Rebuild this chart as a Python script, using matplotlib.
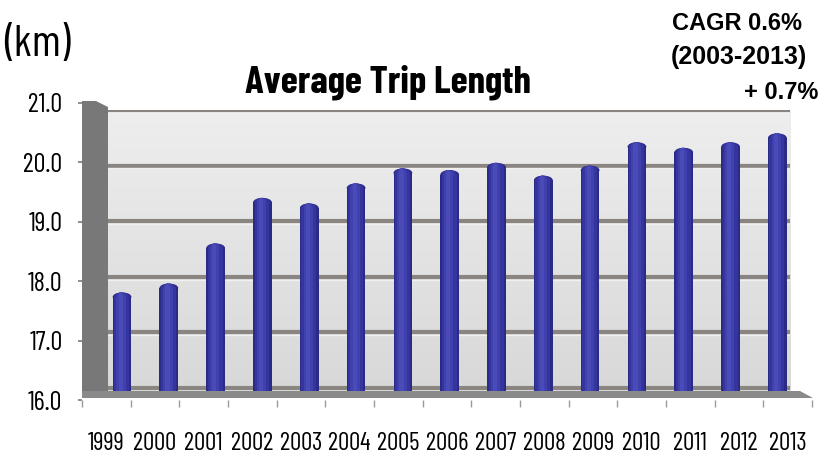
import matplotlib
matplotlib.use("Agg")
import matplotlib.pyplot as plt
import numpy as np
from matplotlib.patches import Ellipse, Polygon

years = ["1999", "2000", "2001", "2002", "2003", "2004", "2005", "2006",
         "2007", "2008", "2009", "2010", "2011", "2012", "2013"]
trip_km = [17.72, 17.88, 18.6, 19.42, 19.32, 19.68, 19.95, 19.92,
           20.05, 19.82, 20.0, 20.42, 20.32, 20.42, 20.58]
yticks = [16.0, 17.0, 18.0, 19.0, 20.0, 21.0]
ytick_labels = ["16.0", "17.0", "18.0", "19.0", "20.0", "21.0"]

W, H = 821, 457
fig = plt.figure(figsize=(W / 100, H / 100), dpi=100)
fig.patch.set_facecolor("white")

COND = ["Barlow Condensed", "DejaVu Sans"]
ARIAL = ["Liberation Sans", "DejaVu Sans"]

def fx(px):
    return px / W

def fy(py):
    return 1 - py / H

# front plane axes (ticks/labels)
front_l, front_r, front_t, front_b = 82, 812, 103, 400
axf = fig.add_axes([fx(front_l), fy(front_b), fx(front_r - front_l), (front_b - front_t) / H])
axf.set_xlim(-0.5, len(years) - 0.5)
axf.set_ylim(16, 21)
axf.patch.set_alpha(0)
for s in axf.spines.values():
    s.set_visible(False)
axf.set_yticks(yticks)
axf.set_yticklabels(ytick_labels, family=COND, fontsize=19)
axf.set_xticks(np.arange(len(years) + 1) - 0.5)
axf.set_xticklabels([])
axf.set_xticks(np.arange(len(years)), minor=True)
axf.set_xticklabels(years, minor=True, family=COND, fontsize=18)
axf.tick_params(axis="y", length=3, width=1.2, color="#7b7b7b", pad=11)
axf.tick_params(axis="x", which="major", length=5, width=1, color="#9a9a9a", direction="out")
axf.tick_params(axis="x", which="minor", length=0, pad=23)

# side wall and floor
wall_l, wall_r, wall_t, wall_b = 108, 790, 110, 392
side = Polygon([(fx(82), fy(101)), (fx(96), fy(101)), (fx(wall_l), fy(107)),
                (fx(wall_l), fy(wall_b)), (fx(82), fy(wall_b))], closed=True,
               transform=fig.transFigure, facecolor="#787878", edgecolor="none", zorder=0.5)
fig.patches.append(side)
floor = Polygon([(fx(82), fy(wall_b - 1)), (fx(800), fy(wall_b - 1)), (fx(813), fy(398)),
                 (fx(82), fy(398))], closed=True,
                transform=fig.transFigure, facecolor="#8a8a8a", edgecolor="none", zorder=0.5)
fig.patches.append(floor)

# back wall axes with bars
axb = fig.add_axes([fx(wall_l), fy(wall_b), fx(wall_r - wall_l), (wall_b - wall_t) / H])
axb.set_xlim(-0.3, 14.27)
axb.set_ylim(15.93, 21)
axb.set_axis_off()
grad = np.linspace(1, 0, 256).reshape(-1, 1)
axb.imshow(grad, extent=[-0.3, 14.27, 15.93, 21], aspect="auto",
           cmap=matplotlib.colors.LinearSegmentedColormap.from_list("w", ["#d8d8d8", "#eeeeee"]), zorder=0)
for v in yticks:
    axb.axhline(v, color="#8b8581", lw=3.0, zorder=1)
    axb.axhline(v - 0.05, color="#f2f0ee", lw=1.0, zorder=1)

x = np.arange(len(years))
base = axb.get_ylim()[0]
layers = [(0.40, "#2b2b85", 0.0), (0.32, "#3535a0", -0.01), (0.20, "#4040ae", -0.02), (0.09, "#4b4bb8", -0.03)]
cap_h = 0.16
for w, c, off in layers:
    tops = [v - cap_h / 2 for v in trip_km]
    axb.bar(x + off, [t - base for t in tops], bottom=base, width=w, color=c, zorder=3)
    for xi, t in zip(x, tops):
        axb.add_patch(Ellipse((xi + off, t), w, cap_h, facecolor=c, edgecolor="none", zorder=3))

# texts
fig.text(fx(388), fy(93), "Average Trip Length", ha="center", va="baseline",
         family=COND, fontweight="bold", fontsize=28)
fig.text(fx(4), fy(56), "(km)", ha="left", va="baseline", family=COND, fontsize=32)
fig.text(fx(737), fy(30), "CAGR 0.6%", ha="center", va="baseline",
         family=ARIAL, fontweight="bold", fontsize=17)
fig.text(fx(739), fy(64), "(2003-2013)", ha="center", va="baseline",
         family=ARIAL, fontweight="bold", fontsize=18)
fig.text(fx(818), fy(99), "+ 0.7%", ha="right", va="baseline",
         family=ARIAL, fontweight="bold", fontsize=17)

fig.savefig("out.png", dpi=100, facecolor="white")
